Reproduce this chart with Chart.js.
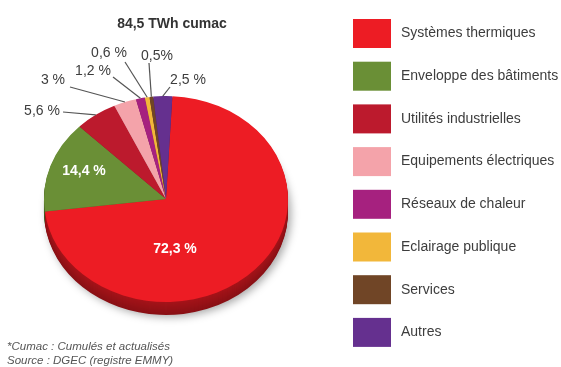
<!DOCTYPE html>
<html lang="fr">
<head>
<meta charset="utf-8">
<script src="https://cdn.jsdelivr.net/npm/chart.js@4.4.1/dist/chart.umd.min.js"></script>
<style>
  html, body { margin: 0; padding: 0; background: #fff; }
  #wrap { width: 561px; height: 367px; }
</style>
</head>
<body>
<div id="wrap"><canvas id="chartCumac" width="561" height="367"></canvas></div>
<script>
// Répartition des volumes CEE par secteur
const secteurs = ['Systèmes thermiques', 'Enveloppe des bâtiments', 'Utilités industrielles', 'Equipements électriques',
                  'Réseaux de chaleur', 'Eclairage publique', 'Services', 'Autres'];
const parts = [72.3, 14.4, 5.6, 3, 1.2, 0.6, 0.5, 2.5];
const etiquettes = ['72,3 %', '14,4 %', '5,6 %', '3 %', '1,2 %', '0,6 %', '0,5%', '2,5 %'];
const titre = '84,5 TWh cumac';
const notes = ['*Cumac : Cumulés et actualisés', 'Source : DGEC (registre EMMY)'];

const couleurs = ['#ed1c24', '#6a8f36', '#bc1a2d', '#f4a3aa', '#a6217f', '#f2b73a', '#704526', '#65308f'];

// emplacement du texte des étiquettes + départ du trait de rappel
const posEtiquettes = [
    { x: 175, y: 249, dedans: true },
    { x: 84, y: 171, dedans: true },
    { x: 42, y: 111, lx: 63, ly: 112 },
    { x: 53, y: 80, lx: 70, ly: 87 },
    { x: 93, y: 71, lx: 113, ly: 77 },
    { x: 109, y: 53, lx: 125, ly: 62 },
    { x: 157, y: 56, lx: 149, ly: 63 },
    { x: 188, y: 80, lx: 170, ly: 87 }
];

const ECRASEMENT = 0.844;   // camembert vu en perspective
const EPAISSEUR = 13;
const POLICE = "'Liberation Sans', Arial, sans-serif";

function assombrir(hex, f) {
    const n = parseInt(hex.slice(1), 16);
    const r = Math.round(((n >> 16) & 255) * f);
    const g = Math.round(((n >> 8) & 255) * f);
    const b = Math.round((n & 255) * f);
    return `rgb(${r},${g},${b})`;
}

function tracerParts(ctx, meta, couleur) {
    meta.data.forEach((arc, i) => {
        const p = arc.getProps(['x', 'y', 'startAngle', 'endAngle', 'outerRadius'], true);
        ctx.beginPath();
        ctx.moveTo(p.x, p.y);
        ctx.arc(p.x, p.y, p.outerRadius, p.startAngle, p.endAngle);
        ctx.closePath();
        ctx.fillStyle = couleur(i);
        ctx.fill();
    });
}

const camembert3D = {
    id: 'camembert3D',
    beforeDatasetsDraw(chart) {
        const ctx = chart.ctx;
        const meta = chart.getDatasetMeta(0);
        const { x, y } = meta.data[0];

        // tranche du camembert (épaisseur)
        for (let d = EPAISSEUR; d >= 1; d--) {
            ctx.save();
            ctx.translate(0, d);
            ctx.translate(x, y);
            ctx.scale(1, ECRASEMENT);
            ctx.translate(-x, -y);
            if (d === EPAISSEUR) {
                ctx.shadowColor = 'rgba(0,0,0,0.35)';
                ctx.shadowBlur = 8;
                ctx.shadowOffsetX = 3;
                ctx.shadowOffsetY = 2;
            }
            const f = 0.58 + 0.12 * (EPAISSEUR - d) / EPAISSEUR;
            tracerParts(ctx, meta, i => assombrir(couleurs[i], f));
            ctx.restore();
        }

        // face du dessus, écrasée verticalement
        ctx.save();
        ctx.translate(x, y);
        ctx.scale(1, ECRASEMENT);
        ctx.translate(-x, -y);
    },
    afterDatasetsDraw(chart) {
        chart.ctx.restore();
    },
    afterDraw(chart) {
        const ctx = chart.ctx;
        const meta = chart.getDatasetMeta(0);

        // titre
        ctx.save();
        ctx.fillStyle = '#333';
        ctx.font = `bold 14px ${POLICE}`;
        ctx.textAlign = 'center';
        ctx.textBaseline = 'middle';
        ctx.fillText(titre, 172, 24);

        // étiquettes de valeurs
        meta.data.forEach((arc, i) => {
            const pos = posEtiquettes[i];
            if (pos.dedans) {
                ctx.fillStyle = '#fff';
                ctx.font = `bold 14px ${POLICE}`;
                ctx.fillText(etiquettes[i], pos.x, pos.y);
                return;
            }
            const p = arc.getProps(['x', 'y', 'startAngle', 'endAngle', 'outerRadius'], true);
            const milieu = (p.startAngle + p.endAngle) / 2;
            const ax = p.x + p.outerRadius * Math.cos(milieu);
            const ay = p.y + p.outerRadius * Math.sin(milieu) * ECRASEMENT;
            ctx.strokeStyle = '#555';
            ctx.lineWidth = 1.2;
            ctx.beginPath();
            ctx.moveTo(pos.lx, pos.ly);
            ctx.lineTo(ax, ay);
            ctx.stroke();
            ctx.fillStyle = '#3d3d3d';
            ctx.font = `14px ${POLICE}`;
            ctx.fillText(etiquettes[i], pos.x, pos.y);
        });

        // légende
        ctx.textAlign = 'left';
        secteurs.forEach((nom, i) => {
            const top = 19 + i * 42.7;
            ctx.fillStyle = couleurs[i];
            ctx.fillRect(353, top, 38, 29);
            ctx.fillStyle = '#3d3d3d';
            ctx.font = `14px ${POLICE}`;
            ctx.fillText(nom, 401, top + 14.5);
        });

        // notes
        ctx.fillStyle = '#555';
        ctx.font = `italic 11.5px ${POLICE}`;
        ctx.fillText(notes[0], 7, 347);
        ctx.fillText(notes[1], 7, 361);
        ctx.restore();
    }
};

const ctx = document.getElementById('chartCumac').getContext('2d');
new Chart(ctx, {
    type: 'pie',
    data: {
        labels: secteurs,
        datasets: [{
            data: parts,
            backgroundColor: couleurs,
            borderWidth: 0
        }]
    },
    options: {
        responsive: false,
        animation: false,
        events: [],
        rotation: 3,
        layout: { padding: { left: 44, right: 273, top: 77, bottom: 46 } },
        plugins: {
            legend: { display: false },
            tooltip: { enabled: false }
        }
    },
    plugins: [camembert3D]
});
</script>
</body>
</html>
